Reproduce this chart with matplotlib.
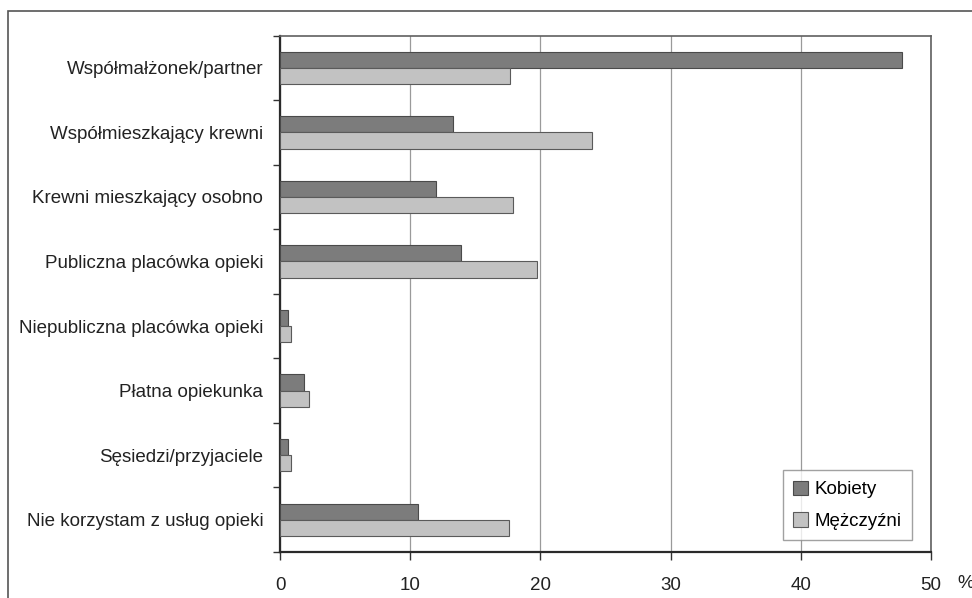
import numpy as np
import matplotlib.pyplot as plt
from matplotlib.patches import Rectangle

plt.rcParams['font.family'] = ['Liberation Sans', 'DejaVu Sans']

categories = ["Współmałżonek/partner", "Współmieszkający krewni",
              "Krewni mieszkający osobno", "Publiczna placówka opieki",
              "Niepubliczna placówka opieki", "Płatna opiekunka",
              "Sęsiedzi/przyjaciele", "Nie korzystam z usług opieki"]
kobiety = [47.8, 13.3, 12.0, 13.9, 0.6, 1.85, 0.6, 10.6]
mezczyzni = [17.7, 24.0, 17.9, 19.7, 0.85, 2.2, 0.85, 17.6]
xticks = [0, 10, 20, 30, 40, 50]

fig = plt.figure(figsize=(9.72, 5.98), dpi=100)
ax = fig.add_axes([0.2881, 0.0769, 0.6697, 0.8637])

y = np.arange(len(categories))
h = 0.25
ax.barh(y - h/2, kobiety, height=h, color='#7c7c7c', edgecolor='#4a4a4a',
        linewidth=0.8, label='Kobiety', zorder=3)
ax.barh(y + h/2, mezczyzni, height=h, color='#c2c2c2', edgecolor='#5a5a5a',
        linewidth=0.8, label='Mężczyźni', zorder=3)

ax.set_xlim(0, 50)
ax.set_ylim(len(categories) - 0.5, -0.5)
ax.set_xticks(xticks)
ax.set_xticklabels([str(t) for t in xticks], fontsize=13.5, color='#222222')
ax.set_yticks(y)
ax.set_yticklabels(categories, fontsize=13.5, color='#222222')
ax.tick_params(axis='y', which='major', length=0, pad=12)
ax.set_yticks(np.arange(-0.5, len(categories)), minor=True)
ax.tick_params(axis='y', which='minor', length=5, width=1, color='#333333')
ax.tick_params(axis='x', length=6, width=1, color='#333333', pad=12)
ax.grid(axis='x', color='#9a9a9a', linewidth=0.9, zorder=0)

for side in ['left', 'bottom']:
    ax.spines[side].set_color('#2a2a2a')
    ax.spines[side].set_linewidth(1.6)
for side in ['top', 'right']:
    ax.spines[side].set_color('#606060')
    ax.spines[side].set_linewidth(1.2)

fig.text(957 / 972, 1 - 584 / 598, '%', fontsize=13.5, color='#222222',
         ha='left', va='center')

leg = ax.legend(loc='lower right', bbox_to_anchor=(0.971, 0.0225),
                fontsize=13.5, frameon=True, fancybox=False,
                handlelength=0.8, handleheight=0.8, handletextpad=0.35,
                labelspacing=0.75, borderpad=0.55, borderaxespad=0)
leg.get_frame().set_edgecolor('#8a8a8a')
leg.get_frame().set_linewidth(1.0)
leg.set_zorder(5)

# outer frame running off the right and bottom edges
fig.patches.append(Rectangle((8 / 972, -0.1), 1.2, 1.1 - 11.5 / 598,
                             transform=fig.transFigure, fill=False,
                             edgecolor='#555555', linewidth=1.2))

fig.savefig('out.png', dpi=100)
